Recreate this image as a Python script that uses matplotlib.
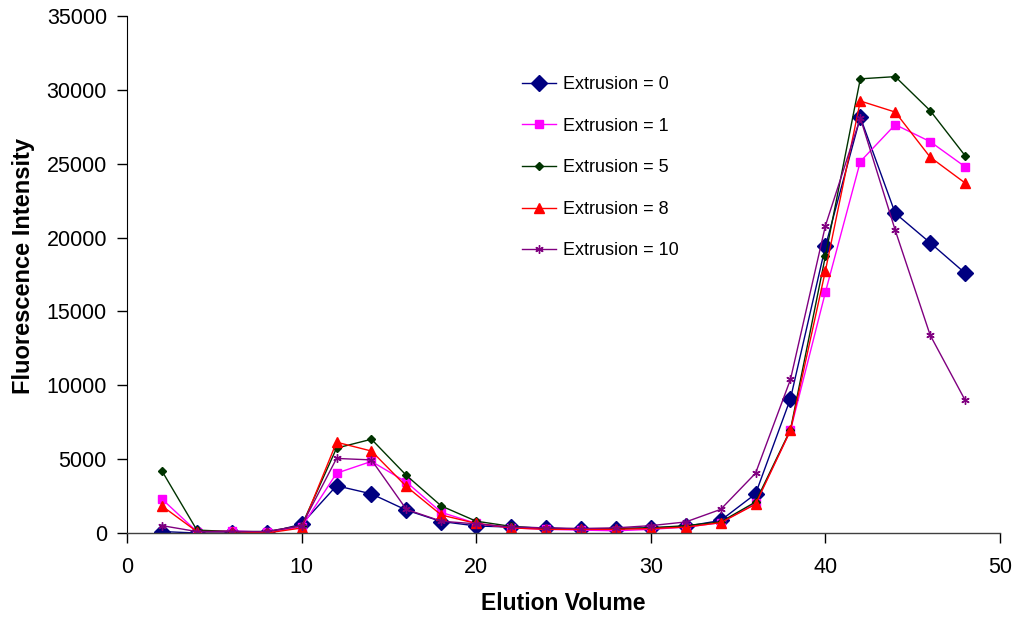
import matplotlib
matplotlib.use("Agg")
import matplotlib.pyplot as plt

# Elution volumes sampled
volume = [2, 4, 6, 8, 10, 12, 14, 16, 18, 20, 22, 24, 26, 28, 30, 32, 34, 36, 38, 40, 42, 44, 46, 48]

# Fluorescence intensity per extrusion count
ext0 = [100, 0, 0, 0, 600, 3200, 2650, 1550, 780, 480, 400, 350, 250, 300, 350, 450, 850, 2650, 9100, 19400, 28150, 21650, 19650, 17600]
ext1 = [2300, 100, 150, 50, 400, 4050, 4850, 3450, 1400, 650, 350, 250, 200, 150, 250, 400, 700, 2000, 6950, 16300, 25150, 27650, 26500, 24800]
ext5 = [4200, 200, 100, 100, 500, 5750, 6350, 3900, 1830, 800, 450, 300, 300, 300, 350, 500, 750, 2100, 7000, 18750, 30750, 30900, 28600, 25550]
ext8 = [1830, 100, 100, 0, 340, 6150, 5550, 3150, 1220, 650, 350, 250, 250, 250, 300, 400, 700, 1950, 6950, 17750, 29250, 28500, 25450, 23700]
ext10 = [500, 100, 100, 100, 500, 5050, 4950, 1600, 800, 620, 400, 350, 300, 350, 500, 750, 1600, 4050, 10400, 20800, 28100, 20500, 13400, 9000]

labels = ["Extrusion = 0", "Extrusion = 1", "Extrusion = 5", "Extrusion = 8", "Extrusion = 10"]
xticks = [0, 10, 20, 30, 40, 50]
yticks = [0, 5000, 10000, 15000, 20000, 25000, 30000, 35000]

plt.rcParams['font.family'] = ['Liberation Sans', 'DejaVu Sans']

fig = plt.figure(figsize=(10.18, 6.18), dpi=100)
ax = fig.add_axes([0.1248, 0.1375, 0.8575, 0.8365])

styles = [
    dict(color="#000080", marker="D", markersize=8, lw=1.0),
    dict(color="#FF00FF", marker="s", markersize=6, lw=1.0),
    dict(color="#003300", marker="D", markersize=4.5, lw=1.0),
    dict(color="#FF0000", marker="^", markersize=7, lw=1.0),
    dict(color="#800080", marker=(6, 2, 0), markersize=6, lw=1.0, mew=1.0),
]

for series, lab, st in zip([ext0, ext1, ext5, ext8, ext10], labels, styles):
    ax.plot(volume, series, label=lab, **st)

ax.set_xlim(0, 50)
ax.set_ylim(0, 35000)
ax.set_xticks(xticks)
ax.set_yticks(yticks)
ax.set_xticklabels([str(v) for v in xticks])
ax.set_yticklabels([str(v) for v in yticks])

for side in ("top", "right"):
    ax.spines[side].set_visible(False)
ax.spines["left"].set_color("black")
ax.spines["bottom"].set_color("#404040")
ax.spines["bottom"].set_linewidth(1.0)

ax.tick_params(axis="both", direction="out", length=7, width=1.0, labelsize=15.5)
ax.tick_params(axis="x", pad=10.5)
ax.tick_params(axis="y", pad=7.5)

ax.set_xlabel("Elution Volume", fontsize=16.5, fontweight="bold")
ax.set_ylabel("Fluorescence Intensity", fontsize=17, fontweight="bold")
ax.xaxis.set_label_coords(0.5, -0.114)
ax.yaxis.set_label_coords(-0.106, 0.516)

ax.legend(loc="upper left", bbox_to_anchor=(0.434, 0.915), frameon=False,
          fontsize=13, handlelength=1.9, labelspacing=1.36, handletextpad=0.35)

fig.savefig("out.png", dpi=100)
